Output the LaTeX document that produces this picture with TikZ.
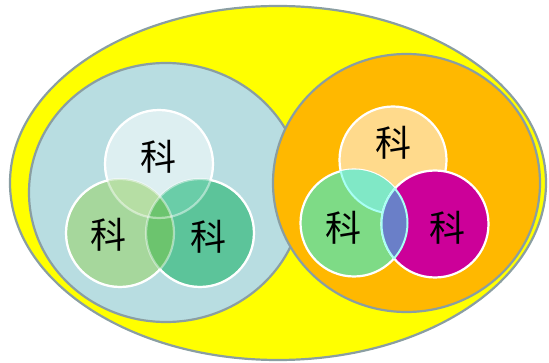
\documentclass[tikz,border=0pt]{standalone}
\usepackage{fontspec}
\newfontfamily\cjk{Noto Sans CJK SC}
\definecolor{rimgray}{HTML}{8A9EA2}
\definecolor{outeryellow}{HTML}{FFFF00}
\definecolor{leftbig}{HTML}{B8DDE1}
\definecolor{rightbig}{HTML}{FFB800}
\definecolor{lT}{HTML}{DDEFF1}
\definecolor{lBL}{HTML}{A6D79C}
\definecolor{lBR}{HTML}{5CC49A}
\definecolor{lTBL}{HTML}{B6DEA4}
\definecolor{lTBR}{HTML}{6ACDA8}
\definecolor{lBLBR}{HTML}{6CC46E}
\definecolor{rT}{HTML}{FFDA8C}
\definecolor{rBL}{HTML}{7EDB86}
\definecolor{rBR}{HTML}{CC0099}
\definecolor{rTBL}{HTML}{80E8C6}
\definecolor{rBLBR}{HTML}{6A7FC8}
\definecolor{cyanline}{HTML}{A8FFF4}
\begin{document}
\begin{tikzpicture}[x=1pt,y=-1pt,
  rim/.style={draw=rimgray, line width=2.2pt},
  petal/.style={draw=white, line width=2.2pt},
  glyph/.style={font=\cjk\fontsize{36}{36}\selectfont, text=black, inner sep=0pt}]
\useasboundingbox (0,0) rectangle (549,363);
% outer ellipse
\filldraw[rim, fill=outeryellow] (278,183) ellipse [x radius=268, y radius=177];
% big circles
\filldraw[rim, fill=leftbig] (166,192.5) ellipse [x radius=137, y radius=129.5];
\filldraw[rim, fill=rightbig] (406.5,183) ellipse [x radius=133.5, y radius=129];
% ---------- left group ----------
\coordinate (LT) at (159,164);
\coordinate (LBL) at (120,233);
\coordinate (LBR) at (200,233);
\def\lr{54}
\fill[lT] (LT) circle [radius=\lr];
\fill[lBL] (LBL) circle [radius=\lr];
\fill[lBR] (LBR) circle [radius=\lr];
\begin{scope}
  \clip (LT) circle [radius=\lr];
  \fill[lTBL] (LBL) circle [radius=\lr];
  \fill[lTBR] (LBR) circle [radius=\lr];
\end{scope}
\begin{scope}
  \clip (LBL) circle [radius=\lr];
  \fill[lBLBR] (LBR) circle [radius=\lr];
\end{scope}
% faint inner arcs
\draw[petal, draw opacity=0.45] (LT) circle [radius=\lr];
\draw[petal, draw opacity=0.45] (LBL) circle [radius=\lr];
\draw[petal, draw opacity=0.45] (LBR) circle [radius=\lr];
% solid outer arcs
\begin{scope}[even odd rule]
  \clip (0,0) rectangle (549,363) (LBL) circle [radius=\lr];
  \begin{scope}[even odd rule]
  \clip (0,0) rectangle (549,363) (LBR) circle [radius=\lr];
  \draw[petal] (LT) circle [radius=\lr];
  \end{scope}
\end{scope}
\begin{scope}[even odd rule]
  \clip (0,0) rectangle (549,363) (LT) circle [radius=\lr];
  \begin{scope}[even odd rule]
  \clip (0,0) rectangle (549,363) (LBR) circle [radius=\lr];
  \draw[petal] (LBL) circle [radius=\lr];
  \end{scope}
\end{scope}
\begin{scope}[even odd rule]
  \clip (0,0) rectangle (549,363) (LT) circle [radius=\lr];
  \begin{scope}[even odd rule]
  \clip (0,0) rectangle (549,363) (LBL) circle [radius=\lr];
  \draw[petal] (LBR) circle [radius=\lr];
  \end{scope}
\end{scope}
\node[glyph] (lt) at (158,157) {科};
\node[glyph] (lbl) at (108,235) {科};
\node[glyph] (lbr) at (208,237) {科};
% ---------- right group ----------
\coordinate (RT) at (393,160);
\coordinate (RBL) at (354,223);
\coordinate (RBR) at (435,224);
\def\rr{53.5}
\filldraw[petal, fill=rT] (RT) circle [radius=\rr];
\filldraw[petal, fill=rBL] (RBL) circle [radius=\rr];
\begin{scope}
  \clip (RT) circle [radius=\rr];
  \fill[rTBL] (RBL) circle [radius=\rr];
\end{scope}
\begin{scope}
  \clip (RBL) circle [radius=\rr];
  \draw[draw=cyanline, line width=2pt] (RT) circle [radius=\rr];
\end{scope}
\filldraw[petal, fill=rBR] (RBR) circle [radius=\rr];
\begin{scope}
  \clip (RBL) circle [radius=\rr];
  \fill[rBLBR] (RBR) circle [radius=\rr];
  \draw[draw=cyanline, line width=2pt] (RBR) circle [radius=\rr];
\end{scope}
\begin{scope}
  \clip (RBR) circle [radius=\rr];
  \draw[draw=cyanline, line width=2pt] (RBL) circle [radius=\rr];
\end{scope}
\node[glyph] (rt) at (393,143) {科};
\node[glyph] (rbl) at (343,228) {科};
\node[glyph] (rbr) at (447,228) {科};
\end{tikzpicture}
\end{document}
